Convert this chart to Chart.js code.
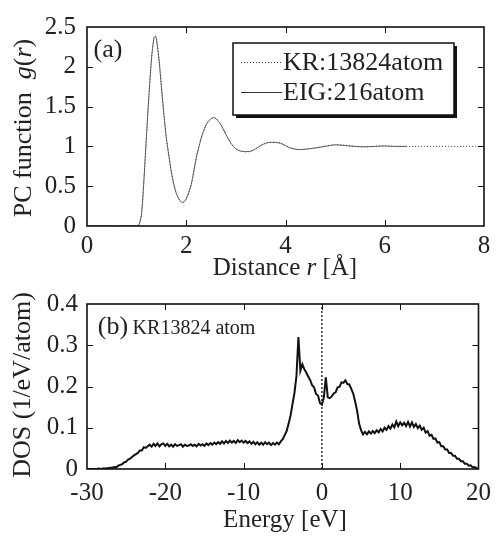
<!DOCTYPE html>
<html>
<head>
<meta charset="utf-8">
<script src="https://cdn.jsdelivr.net/npm/chart.js@4.4.1/dist/chart.umd.min.js"></script>
<style>
  html, body { margin: 0; padding: 0; background: #fff; }
  #wrap { position: relative; width: 500px; height: 538px; }
  #pcf { position: absolute; left: 0; top: 0; }
  #dos { position: absolute; left: 0; top: 280px; }
</style>
</head>
<body>
<div id="wrap">
  <canvas id="pcf" width="500" height="280"></canvas>
  <canvas id="dos" width="500" height="258"></canvas>
</div>
<script>
// ---- (a) pair correlation function g(r) ----
const rKR = [0, 1.0, 1.05, 1.1, 1.15, 1.2, 1.25, 1.3, 1.35, 1.38, 1.4, 1.45, 1.5, 1.55, 1.6, 1.65,
  1.7, 1.75, 1.8, 1.85, 1.9, 1.95, 2.0, 2.1, 2.2, 2.3, 2.4, 2.5, 2.55, 2.6, 2.7, 2.8, 2.9, 3.0,
  3.1, 3.2, 3.3, 3.4, 3.5, 3.6, 3.7, 3.8, 3.9, 4.0, 4.1, 4.2, 4.3, 4.4, 4.6, 4.8, 5.0, 5.2, 5.4,
  5.6, 5.8, 6.0, 6.2, 6.4, 6.6, 6.8, 7.0, 7.5, 8.0];
const gKR = [0, 0, 0.02, 0.15, 0.6, 1.15, 1.65, 2.1, 2.37, 2.39, 2.35, 2.1, 1.75, 1.4, 1.1, 0.88,
  0.68, 0.52, 0.41, 0.34, 0.30, 0.30, 0.34, 0.52, 0.85, 1.10, 1.27, 1.35, 1.36, 1.35, 1.27, 1.15, 1.04, 0.97,
  0.94, 0.93, 0.94, 0.97, 1.01, 1.04, 1.055, 1.05, 1.04, 1.01, 0.98, 0.965, 0.96, 0.965, 0.98, 1.005, 1.02, 1.015, 1.0,
  0.995, 1.0, 1.005, 1.0, 1.0, 1.0, 1.0, 1.0, 1.0, 1.0];
const rEIG = [0, 1.0, 1.05, 1.1, 1.15, 1.2, 1.25, 1.3, 1.35, 1.38, 1.4, 1.45, 1.5, 1.55, 1.6, 1.65,
  1.7, 1.75, 1.8, 1.85, 1.9, 1.95, 2.0, 2.1, 2.2, 2.3, 2.4, 2.5, 2.55, 2.6, 2.7, 2.8, 2.9, 3.0,
  3.1, 3.2, 3.3, 3.4, 3.5, 3.6, 3.7, 3.8, 3.9, 4.0, 4.1, 4.2, 4.3, 4.4, 4.6, 4.8, 5.0, 5.2, 5.4,
  5.6, 5.8, 6.0, 6.2, 6.45];
const gEIG = [0, 0, 0.02, 0.16, 0.61, 1.15, 1.66, 2.1, 2.36, 2.38, 2.34, 2.1, 1.74, 1.4, 1.1, 0.88,
  0.68, 0.52, 0.41, 0.34, 0.30, 0.30, 0.34, 0.52, 0.85, 1.10, 1.27, 1.35, 1.36, 1.35, 1.27, 1.15, 1.04, 0.97,
  0.94, 0.935, 0.94, 0.97, 1.01, 1.04, 1.05, 1.05, 1.04, 1.01, 0.98, 0.965, 0.96, 0.965, 0.98, 1.0, 1.02, 1.01, 1.0,
  0.995, 1.0, 1.005, 1.0, 1.0];
const rTicks = [0, 8, 2];     // min, max, step
const gTicks = [0, 2.5, 0.5];

// ---- (b) density of states ----
const energy = [
  -30, -29.75, -29.5, -29.25, -29, -28.75, -28.5, -28.25,
  -28, -27.75, -27.5, -27.25, -27, -26.75, -26.5, -26.25,
  -26, -25.75, -25.5, -25.25, -25, -24.75, -24.5, -24.25,
  -24, -23.75, -23.5, -23.25, -23, -22.75, -22.5, -22.25,
  -22, -21.75, -21.5, -21.25, -21, -20.75, -20.5, -20.25,
  -20, -19.75, -19.5, -19.25, -19, -18.75, -18.5, -18.25,
  -18, -17.75, -17.5, -17.25, -17, -16.75, -16.5, -16.25,
  -16, -15.75, -15.5, -15.25, -15, -14.75, -14.5, -14.25,
  -14, -13.75, -13.5, -13.25, -13, -12.75, -12.5, -12.25,
  -12, -11.75, -11.5, -11.25, -11, -10.75, -10.5, -10.25,
  -10, -9.75, -9.5, -9.25, -9, -8.75, -8.5, -8.25,
  -8, -7.75, -7.5, -7.25, -7, -6.75, -6.5, -6.25,
  -6, -5.75, -5.5, -5.25, -5, -4.75, -4.5, -4.25,
  -4, -3.75, -3.5, -3.25, -3, -2.75, -2.5, -2.25,
  -2, -1.75, -1.5, -1.25, -1, -0.75, -0.5, -0.25,
  0, 0.25, 0.5, 0.75, 1, 1.25, 1.5, 1.75,
  2, 2.25, 2.5, 2.75, 3, 3.25, 3.5, 3.75,
  4, 4.25, 4.5, 4.75, 5, 5.25, 5.5, 5.75,
  6, 6.25, 6.5, 6.75, 7, 7.25, 7.5, 7.75,
  8, 8.25, 8.5, 8.75, 9, 9.25, 9.5, 9.75,
  10, 10.25, 10.5, 10.75, 11, 11.25, 11.5, 11.75,
  12, 12.25, 12.5, 12.75, 13, 13.25, 13.5, 13.75,
  14, 14.25, 14.5, 14.75, 15, 15.25, 15.5, 15.75,
  16, 16.25, 16.5, 16.75, 17, 17.25, 17.5, 17.75,
  18, 18.25, 18.5, 18.75, 19, 19.25, 19.5, 19.75,
  20];
const dos = [
  0, 0, 0, 0, 0, 0, 0.001, 0,
  0.001, 0.001, 0.002, 0.002, 0.003, 0.003, 0.005, 0.004,
  0.008, 0.010, 0.012, 0.016, 0.018, 0.023, 0.025, 0.029,
  0.033, 0.036, 0.039, 0.045, 0.045, 0.053, 0.051, 0.055,
  0.059, 0.054, 0.061, 0.056, 0.062, 0.055, 0.060, 0.062,
  0.056, 0.061, 0.055, 0.059, 0.054, 0.060, 0.056, 0.058,
  0.060, 0.054, 0.059, 0.056, 0.057, 0.060, 0.056, 0.059,
  0.055, 0.061, 0.057, 0.060, 0.056, 0.062, 0.058, 0.063,
  0.059, 0.064, 0.060, 0.065, 0.061, 0.067, 0.062, 0.068,
  0.063, 0.069, 0.064, 0.068, 0.063, 0.070, 0.065, 0.069,
  0.064, 0.068, 0.063, 0.067, 0.061, 0.066, 0.060, 0.065,
  0.059, 0.064, 0.059, 0.065, 0.060, 0.064, 0.058, 0.063,
  0.059, 0.064, 0.060, 0.067, 0.072, 0.082, 0.092, 0.110,
  0.130, 0.158, 0.185, 0.225, 0.320, 0.238, 0.254, 0.242,
  0.234, 0.224, 0.216, 0.203, 0.198, 0.182, 0.178, 0.160,
  0.156, 0.174, 0.222, 0.174, 0.172, 0.176, 0.183, 0.186,
  0.198, 0.199, 0.210, 0.209, 0.215, 0.206, 0.205, 0.194,
  0.183, 0.163, 0.141, 0.110, 0.094, 0.084, 0.090, 0.084,
  0.091, 0.086, 0.092, 0.087, 0.094, 0.089, 0.097, 0.091,
  0.100, 0.095, 0.104, 0.098, 0.108, 0.101, 0.115, 0.104,
  0.113, 0.106, 0.112, 0.104, 0.114, 0.103, 0.113, 0.102,
  0.109, 0.099, 0.105, 0.095, 0.100, 0.088, 0.092, 0.081,
  0.083, 0.073, 0.074, 0.064, 0.065, 0.055, 0.055, 0.047,
  0.047, 0.039, 0.039, 0.032, 0.032, 0.025, 0.025, 0.019,
  0.019, 0.013, 0.013, 0.008, 0.009, 0.004, 0.005, 0.002,
  0.001];
const eTicks = [-30, 20, 10];
const dosTicks = [0, 0.4, 0.1];
const fermiEnergy = 0;

const SERIF = "'Liberation Serif', 'Times New Roman', Times, serif";
Chart.defaults.font.family = SERIF;
Chart.defaults.color = "#222";

function toXY(xs, ys) {
  return xs.map((x, i) => ({ x: x, y: ys[i] }));
}

// draws a line of text made of upright / italic pieces
function richText(ctx, segs, cx, cy, size, angle) {
  ctx.save();
  ctx.translate(cx, cy);
  if (angle) ctx.rotate(angle);
  ctx.textBaseline = "middle";
  ctx.textAlign = "left";
  let w = 0;
  segs.forEach(s => {
    ctx.font = (s.it ? "italic " : "") + size + "px " + SERIF;
    s.w = ctx.measureText(s.t).width;
    w += s.w;
  });
  let x = -w / 2;
  segs.forEach(s => {
    ctx.font = (s.it ? "italic " : "") + size + "px " + SERIF;
    ctx.fillStyle = "#222";
    ctx.fillText(s.t, x, 0);
    x += s.w;
  });
  ctx.restore();
}

// box around the plot with ticks pointing inward on all four sides
const framePlugin = {
  id: "frame",
  afterDatasetsDraw(chart) {
    const { ctx, chartArea: a, scales } = chart;
    const len = 6;
    ctx.save();
    ctx.strokeStyle = "#111";
    ctx.lineWidth = 1;
    ctx.beginPath();
    scales.x.ticks.forEach(t => {
      const px = Math.round(scales.x.getPixelForValue(t.value)) + 0.5;
      if (px <= a.left + 2 || px >= a.right - 2) return;
      ctx.moveTo(px, a.bottom); ctx.lineTo(px, a.bottom - len);
      ctx.moveTo(px, a.top); ctx.lineTo(px, a.top + len);
    });
    scales.y.ticks.forEach(t => {
      const py = Math.round(scales.y.getPixelForValue(t.value)) + 0.5;
      if (py <= a.top + 2 || py >= a.bottom - 2) return;
      ctx.moveTo(a.left, py); ctx.lineTo(a.left + len, py);
      ctx.moveTo(a.right, py); ctx.lineTo(a.right - len, py);
    });
    ctx.stroke();
    ctx.lineWidth = 1.6;
    ctx.strokeRect(a.left, a.top, a.right - a.left, a.bottom - a.top);
    ctx.restore();
  }
};

function textPlugin(spec) {
  return {
    id: "texts",
    afterDraw(chart) {
      const ctx = chart.ctx;
      spec.forEach(s => richText(ctx, s.segs, s.x, s.y, s.size, s.angle || 0));
    }
  };
}

// framed legend with a drop shadow inside panel (a)
const boxLegend = {
  id: "boxLegend",
  afterDraw(chart) {
    const ctx = chart.ctx;
    const L = 233, T = 43, W = 221, H = 72;
    ctx.save();
    ctx.fillStyle = "#111";
    ctx.fillRect(L + 3, T + 3, W, H);
    ctx.fillStyle = "#fff";
    ctx.fillRect(L, T, W, H);
    ctx.strokeStyle = "#111";
    ctx.lineWidth = 1.5;
    ctx.strokeRect(L, T, W, H);
    chart.data.datasets.forEach((ds, i) => {
      const y = T + 19 + i * 30;
      ctx.beginPath();
      ctx.setLineDash(ds.borderDash || []);
      ctx.strokeStyle = "#333";
      ctx.lineWidth = 1;
      ctx.moveTo(L + 8, y + 0.5);
      ctx.lineTo(L + 49, y + 0.5);
      ctx.stroke();
      ctx.setLineDash([]);
      ctx.font = "26px " + SERIF;
      ctx.fillStyle = "#222";
      ctx.textBaseline = "middle";
      ctx.fillText(ds.label, L + 50, y + 1);
    });
    ctx.restore();
  }
};

function tickOpts(t, pad) {
  return {
    min: t[0], max: t[1],
    ticks: {
      stepSize: t[2], autoSkip: false, maxRotation: 0, font: { size: 25 }, padding: pad, color: "#222",
      callback: v => String(+v.toFixed(3))
    },
    grid: { display: false, drawTicks: false },
    border: { display: false }
  };
}

// ---- chart (a) ----
const xA = Object.assign({ type: "linear", afterFit(s) { s.height = 54; } }, tickOpts(rTicks, 5));
const yA = Object.assign({ type: "linear", afterFit(s) { s.width = 87; } }, tickOpts(gTicks, 11));

new Chart(document.getElementById("pcf"), {
  type: "line",
  data: {
    datasets: [
      { label: "KR:13824atom", data: toXY(rKR, gKR), borderColor: "#444", borderWidth: 1,
        borderDash: [1, 2], pointRadius: 0, tension: 0.3 },
      { label: "EIG:216atom", data: toXY(rEIG, gEIG), borderColor: "#666", borderWidth: 1,
        pointRadius: 0, tension: 0.3 }
    ]
  },
  options: {
    responsive: false, animation: false,
    layout: { padding: { left: 0, right: 16, top: 27, bottom: 0 } },
    plugins: { legend: { display: false }, tooltip: { enabled: false } },
    scales: { x: xA, y: yA }
  },
  plugins: [framePlugin, boxLegend, textPlugin([
    { segs: [{ t: "(a)" }], x: 108, y: 50, size: 26 },
    { segs: [{ t: "Distance " }, { t: "r", it: true }, { t: " [Å]" }], x: 285, y: 268, size: 25 },
    { segs: [{ t: "PC function  " }, { t: "g", it: true }, { t: "(" }, { t: "r", it: true }, { t: ")" }],
      x: 24, y: 128, size: 26, angle: -Math.PI / 2 }
  ])]
});

// ---- chart (b) ----
const xB = Object.assign({ type: "linear", afterFit(s) { s.height = 69; } }, tickOpts(eTicks, 9));
const yB = Object.assign({ type: "linear", afterFit(s) { s.width = 87; } }, tickOpts(dosTicks, 9));

new Chart(document.getElementById("dos"), {
  type: "line",
  data: {
    datasets: [
      { label: "KR13824 atom", data: toXY(energy, dos), borderColor: "#111", borderWidth: 2,
        pointRadius: 0, tension: 0 },
      { label: "E_F", data: [{ x: fermiEnergy, y: dosTicks[0] }, { x: fermiEnergy, y: dosTicks[1] }],
        borderColor: "#111", borderWidth: 1.3, borderDash: [2, 2], pointRadius: 0 }
    ]
  },
  options: {
    responsive: false, animation: false,
    layout: { padding: { left: 0, right: 14, top: 22, bottom: 0 } },
    plugins: { legend: { display: false }, tooltip: { enabled: false } },
    scales: { x: xB, y: yB }
  },
  plugins: [framePlugin, textPlugin([
    { segs: [{ t: "(b)" }], x: 113, y: 47, size: 26 },
    { segs: [{ t: "KR13824 atom" }], x: 194, y: 49, size: 20 },
    { segs: [{ t: "Energy [eV]" }], x: 285, y: 240, size: 25 },
    { segs: [{ t: "DOS (1/eV/atom)" }], x: 23, y: 105, size: 26, angle: -Math.PI / 2 }
  ])]
});
</script>
</body>
</html>
